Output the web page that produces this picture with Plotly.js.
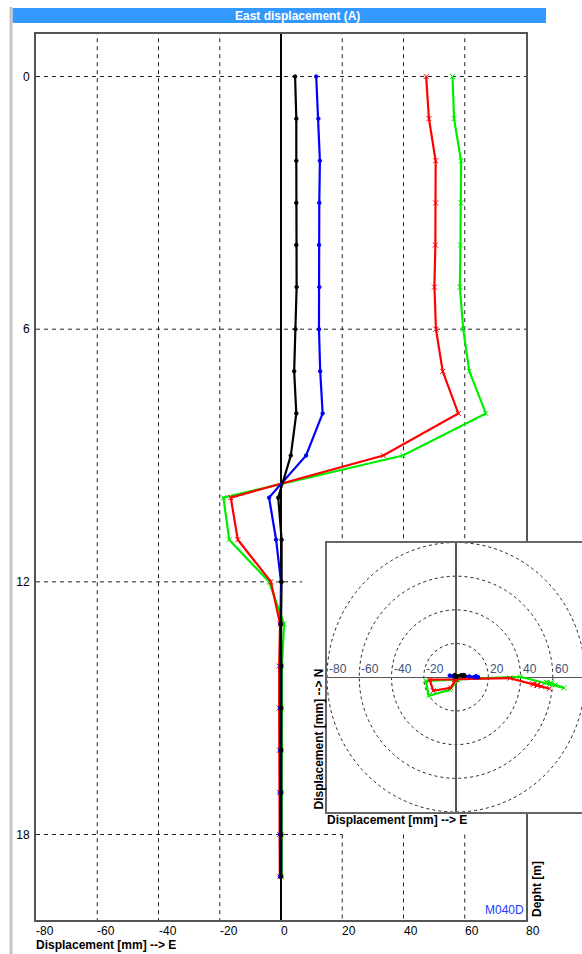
<!DOCTYPE html>
<html><head><meta charset="utf-8">
<script src="https://cdn.plot.ly/plotly-3.0.1.min.js"></script>
<style>html,body{margin:0;padding:0;background:#fff;overflow:hidden}#chart{width:582px;height:954px}</style>
</head><body><div id="chart"></div>
<script>
// ---- data ----
const depth = [0,1,2,3,4,5,6,7,8,9,10,11,12,13,14,15,16,17,18,19];
const eastBlack = [4.6,5.0,5.0,5.0,5.0,5.1,4.7,4.3,5.0,3.2,-0.9,0.2,0.2,0.0,0.1,0.1,0.1,0.1,0.1,0.1];
const eastBlue  = [11.5,12.2,12.7,12.5,12.4,12.5,12.4,12.8,13.6,8.2,-3.9,-1.6,0.0,-0.2,-0.2,-0.3,-0.3,-0.3,-0.3,-0.3];
const eastRed   = [47.4,48.3,50.5,50.5,50.4,50.1,50.6,52.8,57.9,33.4,-16.4,-14.1,-3.3,-0.3,-0.6,-0.6,-0.5,-0.5,-0.4,-0.4];
const eastGreen = [56.0,56.5,58.8,58.8,58.6,58.4,59.5,61.5,66.9,39.8,-18.8,-16.9,-3.9,1.0,0.3,0.3,0.2,0.2,0.2,0.2];
const northBlack = [1.0,1.0,1.1,1.1,1.0,1.0,1.0,0.9,1.0,1.2,1.3,0.6,0.4,0.3,0.3,0.3,0.3,0.3,0.3,0.3];
const northBlue  = [0.2,0.2,0.3,0.3,0.3,0.3,0.3,0.2,0.1,0.5,1.0,0.6,0.3,0.3,0.3,0.3,0.3,0.3,0.3,0.3];
const northRed   = [-3.9,-4.2,-4.8,-4.8,-4.7,-4.7,-4.8,-5.4,-6.8,-0.5,-1.4,-8.0,-6.3,-1.7,-1.0,-1.0,-1.0,-1.0,-1.0,-1.0];
const northGreen = [-3.0,-3.1,-3.5,-3.5,-3.5,-3.5,-3.9,-4.5,-6.3,0.3,-2.1,-11.0,-7.5,-1.5,-1.0,-1.0,-1.0,-1.0,-1.0,-1.0];
const xTicks = [-80,-60,-40,-20,0,20,40,60,80];
const depthTicks = [0,6,12,18];
const gridX = [-60,-40,-20,20,40,60];
const insetTicks = [-80,-60,-40,-20,20,40,60];
const insetRings = [20,40,60,80];

// ---- helpers for paper coords (plot area: x 36..582, y 34..920) ----
const PL=36, PW=546, PT=34, PH=886;
const px = v => (v-PL)/PW;
const py = v => (PT+PH-v)/PH;

const series = [
  {name:'green', e:eastGreen, n:northGreen, color:'#00ee00', sym:'x-thin-open', size:5},
  {name:'red',   e:eastRed,   n:northRed,   color:'#ff0000', sym:'x-thin-open', size:5},
  {name:'blue',  e:eastBlue,  n:northBlue,  color:'#0000ff', sym:'circle', size:3.5},
  {name:'black', e:eastBlack, n:northBlack, color:'#000000', sym:'circle', size:3.5}
];
const traces = [];
series.forEach(s => {
  traces.push({x:s.e, y:depth, xaxis:'x', yaxis:'y', mode:'lines+markers', name:s.name,
    line:{color:s.color, width:2.2}, marker:{symbol:s.sym, size:s.size, color:s.color, line:{color:s.color, width:1}},
    showlegend:false, hoverinfo:'skip'});
});
series.forEach(s => {
  traces.push({x:s.e, y:s.n, xaxis:'x2', yaxis:'y2', mode:'lines+markers', name:s.name,
    line:{color:s.color, width:2.2}, marker:{symbol:s.sym, size:s.size, color:s.color, line:{color:s.color, width:1}},
    showlegend:false, hoverinfo:'skip'});
});

const shapes = [];
const gridLine = {color:'#222', width:1, dash:'4px,4px'};
// vertical grid (main), interrupted by the inset panel
gridX.forEach(v => {
  if (v > 10) {
    shapes.push({type:'line', xref:'x', yref:'y', x0:v, x1:v, y0:-1.1, y1:10.99, line:gridLine, layer:'below'});
    shapes.push({type:'line', xref:'x', yref:'y', x0:v, x1:v, y0:18.0, y1:20.1, line:gridLine, layer:'below'});
  } else {
    shapes.push({type:'line', xref:'x', yref:'y', x0:v, x1:v, y0:-1.1, y1:20.1, line:gridLine, layer:'below'});
  }
});
const hEnd = {0:80, 6:80, 12:6.9, 18:20};
depthTicks.forEach(d => {
  shapes.push({type:'line', xref:'x', yref:'y', x0:-80, x1:hEnd[d], y0:d, y1:d, line:gridLine, layer:'below'});
});
// inset rings
insetRings.forEach(r => {
  shapes.push({type:'circle', xref:'x2', yref:'y2', x0:-r, x1:r, y0:-r, y1:r,
    line:{color:'#222', width:1, dash:'3px,3px'}, layer:'below'});
});
// title bar and window edge
shapes.push({type:'rect', xref:'paper', yref:'paper', x0:px(12.5), x1:px(546), y0:py(23), y1:py(8), fillcolor:'#3399ff', line:{width:0}});
shapes.push({type:'rect', xref:'paper', yref:'paper', x0:px(9.5), x1:px(12.5), y0:py(954), y1:py(7), fillcolor:'#c4c4c4', line:{width:0}});

const ann = [];
const fnt = {family:'Liberation Sans, Arial, sans-serif', size:12, color:'#000'};
xTicks.forEach(v => ann.push({xref:'x', yref:'paper', x:v, y:0, xanchor:'left', yanchor:'top', yshift:-2, xshift:-2,
  text:String(v), showarrow:false, font:fnt}));
insetTicks.forEach(v => ann.push({xref:'x2', yref:'y2', x:v, y:0, xanchor:'left', yanchor:'bottom', xshift:0, yshift:-1,
  text:String(v), showarrow:false, font:{family:fnt.family, size:12, color:'#3d5275'}}));
ann.push({xref:'paper', yref:'paper', x:px(297), y:py(15.5), xanchor:'center', yanchor:'middle', showarrow:false,
  text:'<b>East displacement (A)</b>', font:{family:fnt.family, size:12, color:'#fff'}});
ann.push({xref:'paper', yref:'paper', x:px(34), y:py(945), xanchor:'left', yanchor:'middle', showarrow:false,
  text:'<b>Displacement [mm] --> E</b>', font:fnt});
ann.push({xref:'paper', yref:'paper', x:px(325), y:py(820), xanchor:'left', yanchor:'middle', showarrow:false,
  text:'<b>Displacement [mm] --> E</b>', font:fnt});
ann.push({xref:'paper', yref:'paper', x:px(318), y:py(812), xanchor:'center', yanchor:'bottom', showarrow:false, textangle:-90,
  text:'<b>Displacement [mm] --> N</b>', font:fnt});
ann.push({xref:'paper', yref:'paper', x:px(537), y:py(919), xanchor:'center', yanchor:'bottom', showarrow:false, textangle:-90,
  text:'<b>Depht [m]</b>', font:fnt});
ann.push({xref:'paper', yref:'paper', x:px(526), y:py(910), xanchor:'right', yanchor:'middle', showarrow:false,
  text:'M040D', font:{family:fnt.family, size:12, color:'#1a3cff'}});

const layout = {
  width:582, height:954, margin:{l:PL, r:0, t:PT, b:34}, paper_bgcolor:'#fff', plot_bgcolor:'#fff',
  font:fnt, showlegend:false,
  xaxis:{domain:[0, 490/PW], range:[-80,80], showgrid:false, zeroline:true, zerolinecolor:'#000', zerolinewidth:1.3,
    showline:true, mirror:true, linecolor:'#555', linewidth:2, showticklabels:false, ticks:'', fixedrange:true},
  yaxis:{domain:[0,1], range:[20.03,-1.01], autorange:false, showgrid:false, zeroline:false,
    showline:true, mirror:true, linecolor:'#555', linewidth:2, tickvals:depthTicks, ticktext:depthTicks.map(String),
    ticks:'', ticklabelstandoff:2, tickfont:fnt, fixedrange:true},
  xaxis2:{domain:[px(327), 1], range:[-80,78.1], anchor:'y2', showgrid:false, zeroline:true, zerolinecolor:'#555', zerolinewidth:1.5,
    showline:true, mirror:true, linecolor:'#666', linewidth:2, showticklabels:false, ticks:'', fixedrange:true},
  yaxis2:{domain:[py(812), py(542.5)], range:[-80,80], anchor:'x2', showgrid:false, zeroline:true, zerolinecolor:'#555', zerolinewidth:1.5,
    showline:true, mirror:false, linecolor:'#666', linewidth:2, showticklabels:false, ticks:'', fixedrange:true},
  shapes:shapes, annotations:ann
};
Plotly.newPlot('chart', traces, layout, {staticPlot:true, displayModeBar:false});
</script>
</body></html>
